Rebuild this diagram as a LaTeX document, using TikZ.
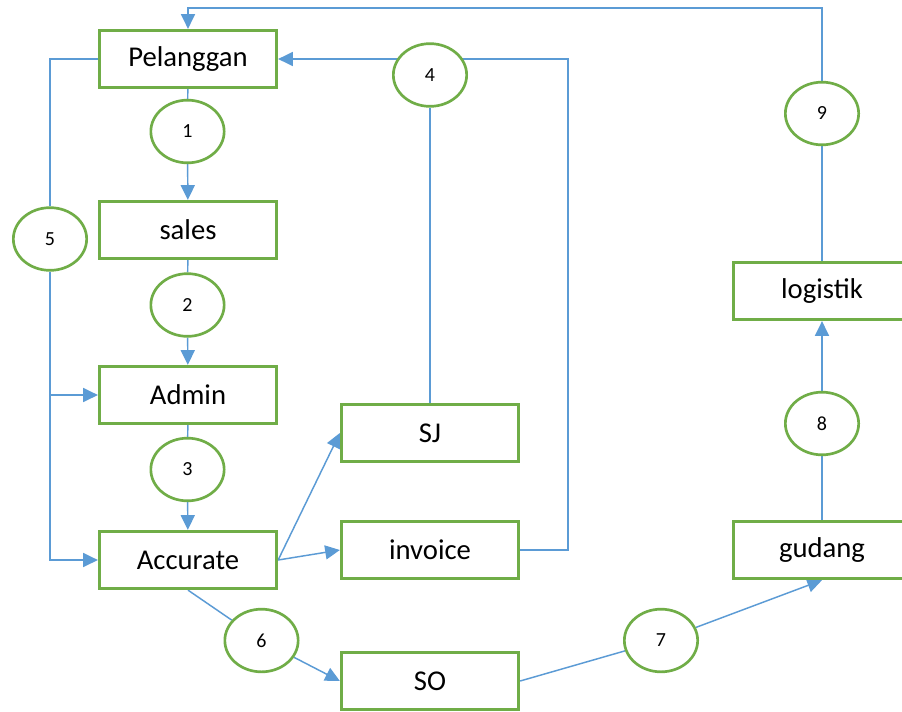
\documentclass[tikz,border=0pt]{standalone}
\usepackage{fontspec}
\setmainfont{Carlito}
\usetikzlibrary{shapes.geometric,arrows.meta,backgrounds}
\definecolor{gr}{HTML}{70AD47}
\definecolor{bl}{HTML}{5B9BD5}
\tikzset{
  box/.style={draw=gr,line width=2.2pt,fill=white,minimum width=133pt,minimum height=43pt,inner sep=0pt,font=\fontsize{21.5}{24}\selectfont},
  num/.style={ellipse,draw=gr,line width=2pt,fill=white,minimum width=55pt,minimum height=47pt,inner sep=0pt,font=\fontsize{15}{16}\selectfont},
  ln/.style={draw=bl,line width=1.1pt},
  arr/.style={ln,-{Triangle[length=11pt,width=10.5pt]}}
}
\begin{document}
\begin{tikzpicture}[x=0.75pt,y=-0.75pt]
\useasboundingbox (0,0) rectangle (902,711);
\clip (0,0) rectangle (902,711);
% boxes
\node[box] (p) at (188,59) {Pelanggan};
\node[box] (s) at (188,230) {sales};
\node[box] (ad) at (188,395) {Admin};
\node[box] (ac) at (188,560) {Accurate};
\node[box] (sj) at (430,433) {SJ};
\node[box] (inv) at (430,550) {invoice};
\node[box] (so) at (430,681) {SO};
\node[box] (gd) at (822,550) {gudang};
\node[box] (lg) at (822,291) {logistik};
% numbered ellipses
\node[num] (c1) at (187.5,131.5) {1};
\node[num] (c2) at (187.5,305) {2};
\node[num] (c3) at (187.5,469.5) {3};
\node[num] (c4) at (430,75) {4};
\node[num] (c5) at (50,239) {5};
\node[num] (c6) at (261.5,640.5) {6};
\node[num] (c7) at (661,640.5) {7};
\node[num] (c8) at (822,423.5) {8};
\node[num] (c9) at (822,113.5) {9};
\coordinate (t) at (500,8);
\coordinate (k) at (568,59);
\begin{scope}[on background layer]
\fill[white] (0,0) rectangle (902,711);
\draw[ln] (p) -- (c1);
\draw[arr] (c1) -- (s);
\draw[ln] (s) -- (c2);
\draw[arr] (c2) -- (ad);
\draw[ln] (ad) -- (c3);
\draw[arr] (c3) -- (ac);
\draw[ln] (p.west) -| (c5.north);
\draw[arr] (c5.south) |- (ac.west);
\coordinate (j) at (c5.south |- ad.west);
\draw[arr] (j) -- (ad.west);
\draw[arr] (ac.east) -- (sj.west);
\draw[arr] (ac.east) -- (inv.west);
\draw[arr] (inv.east) -| (k) -- (p.east);
\draw[ln] (sj.north) -- (c4.south);
\draw[ln] (ac.south) -- (c6);
\draw[arr] (c6) -- (so.west);
\draw[ln] (so.east) -- (c7);
\draw[arr] (c7) -- (gd.south);
\draw[ln] (gd) -- (c8);
\draw[arr] (c8) -- (lg.south);
\draw[ln] (lg) -- (c9);
\draw[arr] (c9.north) |- (t) -| (p.north);
\end{scope}
\end{tikzpicture}
\end{document}
